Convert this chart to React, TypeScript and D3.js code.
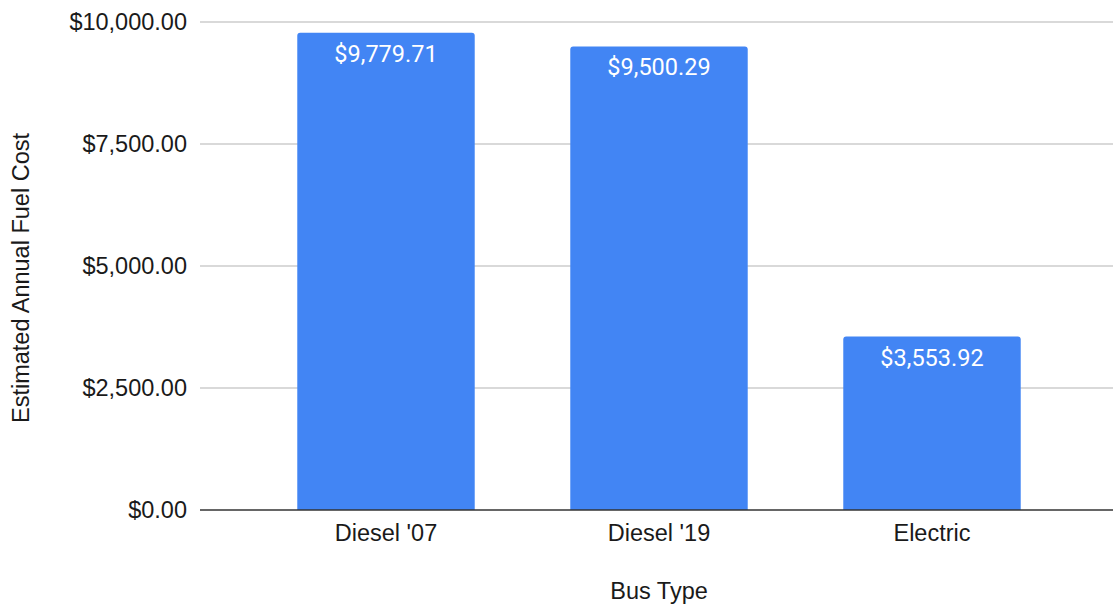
import React from "react";
import * as d3 from "d3";

const categories = ["Diesel '07", "Diesel '19", "Electric"];
const values = [9779.71, 9500.29, 3553.92];
const yTicks = [0, 2500, 5000, 7500, 10000];

const W = 1113;
const H = 604;
const left = 200;
const right = 1113;
const top = 22;
const bottom = 510;
const FS = 23.5;

export default function App() {
  const x = d3.scaleBand<string>().domain(categories).range([249.5, 1068.5]).paddingInner(0.35).paddingOuter(0.175);
  const y = d3.scaleLinear().domain([0, 10000]).range([bottom, top]);
  const fmt = (v: number) => "$" + d3.format(",.2f")(v);
  const r = 3;
  return (
    <svg width={W} height={H} style={{ position: "absolute", left: 0, top: 0, background: "#fff" }}>
      {yTicks.map((t) => (
        <g key={t}>
          {t !== 0 && <line x1={left} x2={right} y1={y(t)} y2={y(t)} stroke="#cccccc" strokeWidth={1.3} />}
          <text x={187} y={y(t)} dy="0.35em" textAnchor="end" fontFamily="Liberation Sans, Arial, sans-serif" fontSize={FS} fill="#1a1a1a">
            {fmt(t)}
          </text>
        </g>
      ))}
      {categories.map((c, i) => {
        const bx = x(c)!;
        const bw = x.bandwidth();
        const by = y(values[i]);
        const path = `M${bx},${bottom} L${bx},${by + r} Q${bx},${by} ${bx + r},${by} L${bx + bw - r},${by} Q${bx + bw},${by} ${bx + bw},${by + r} L${bx + bw},${bottom} Z`;
        return (
          <g key={c}>
            <path d={path} fill="#4285F4" />
            <text x={bx + bw / 2} y={by + 29} textAnchor="middle" fontFamily="Roboto, sans-serif" fontSize={FS} fill="#fff">
              {fmt(values[i])}
            </text>
            <text x={bx + bw / 2} y={bottom + 31} textAnchor="middle" fontFamily="Liberation Sans, Arial, sans-serif" fontSize={FS} fill="#1a1a1a">
              {c}
            </text>
          </g>
        );
      })}
      <line x1={left} x2={right} y1={bottom} y2={bottom} stroke="#333" strokeWidth={1.5} />
      <text x={659} y={599} textAnchor="middle" fontFamily="Liberation Sans, Arial, sans-serif" fontSize={FS} fill="#1a1a1a">
        Bus Type
      </text>
      <text
        transform={`translate(29, ${(top + bottom) / 2 + 12}) rotate(-90)`}
        textAnchor="middle"
        fontFamily="Liberation Sans, Arial, sans-serif"
        fontSize={FS}
        fill="#1a1a1a"
      >
        Estimated Annual Fuel Cost
      </text>
    </svg>
  );
}
